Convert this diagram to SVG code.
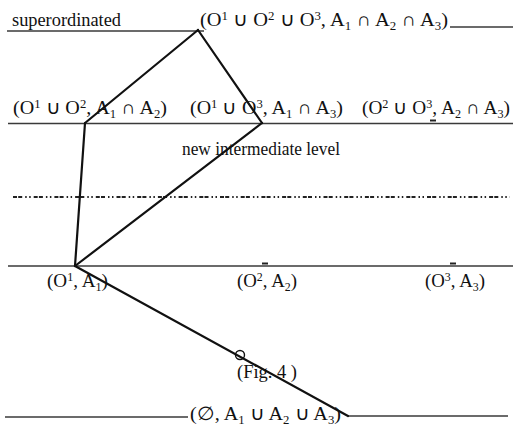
<svg xmlns="http://www.w3.org/2000/svg" width="513" height="428" viewBox="0 0 513 428">
<style>
  .lvl { stroke: #3a3a3a; stroke-width: 1.4; fill: none; }
  .dash { stroke: #222; stroke-width: 2; fill: none; stroke-dasharray: 4 1.2 4 3 1.5 2.5 1.5 3; }
  .edge { stroke: #111; stroke-width: 2.2; fill: none; stroke-linecap: round; }
  .tick { stroke: #222; stroke-width: 2; }
  text { font-family: "Liberation Serif", "Times New Roman", serif; font-size: 19px; fill: #111; }
  .sup { font-size: 12px; baseline-shift: 6px; }
  .sub { font-size: 12px; baseline-shift: -4px; }
</style>
<rect width="513" height="428" fill="#fff"/>

<g id="levels">
  <line class="lvl" x1="7" y1="31" x2="204" y2="31"/>
  <line class="lvl" x1="450" y1="27" x2="513" y2="27"/>
  <line class="lvl" x1="8" y1="123.5" x2="513" y2="123.5"/>
  <line class="dash" x1="13" y1="197" x2="510" y2="197"/>
  <line class="lvl" x1="8" y1="266" x2="513" y2="266"/>
  <line class="lvl" x1="5" y1="417" x2="188" y2="417"/>
  <line class="lvl" x1="348" y1="416" x2="508" y2="416"/>
  <line class="tick" x1="430" y1="120.5" x2="436" y2="120.5"/>
  <line class="tick" x1="262" y1="263.5" x2="268" y2="263.5"/>
  <line class="tick" x1="450" y1="263.5" x2="456" y2="263.5"/>
</g>

<g id="connectors">
  <line class="edge" x1="198" y1="30" x2="85" y2="123"/>
  <line class="edge" x1="198" y1="30" x2="262" y2="123"/>
  <line class="edge" x1="85" y1="123" x2="75" y2="266"/>
  <line class="edge" x1="262" y1="123" x2="75" y2="266"/>
  <line class="edge" x1="75" y1="266" x2="348" y2="416"/>
  <circle cx="240" cy="355" r="4.5" fill="none" stroke="#111" stroke-width="1.4"/>
</g>

<g id="superordinated">
  <text x="12" y="26" textLength="109" lengthAdjust="spacingAndGlyphs">superordinated</text>
  <text x="200" y="26" textLength="248" lengthAdjust="spacingAndGlyphs">(O<tspan class="sup">1</tspan> ∪ O<tspan class="sup">2</tspan> ∪ O<tspan class="sup">3</tspan>, A<tspan class="sub">1</tspan> ∩ A<tspan class="sub">2</tspan> ∩ A<tspan class="sub">3</tspan>)</text>
</g>

<g id="node-o1o2">
  <text x="13" y="114" textLength="154" lengthAdjust="spacingAndGlyphs">(O<tspan class="sup">1</tspan> ∪ O<tspan class="sup">2</tspan>, A<tspan class="sub">1</tspan> ∩ A<tspan class="sub">2</tspan>)</text>
</g>
<g id="node-o1o3">
  <text x="190" y="114" textLength="153" lengthAdjust="spacingAndGlyphs">(O<tspan class="sup">1</tspan> ∪ O<tspan class="sup">3</tspan>, A<tspan class="sub">1</tspan> ∩ A<tspan class="sub">3</tspan>)</text>
</g>
<g id="node-o2o3">
  <text x="362" y="114" textLength="148" lengthAdjust="spacingAndGlyphs">(O<tspan class="sup">2</tspan> ∪ O<tspan class="sup">3</tspan>, A<tspan class="sub">2</tspan> ∩ A<tspan class="sub">3</tspan>)</text>
</g>

<g id="label-intermediate">
  <text x="182" y="155" textLength="158" lengthAdjust="spacingAndGlyphs">new intermediate level</text>
</g>

<g id="node-o1">
  <text x="47" y="287" textLength="61" lengthAdjust="spacingAndGlyphs">(O<tspan class="sup">1</tspan>, A<tspan class="sub">1</tspan>)</text>
</g>
<g id="node-o2">
  <text x="237" y="287" textLength="60" lengthAdjust="spacingAndGlyphs">(O<tspan class="sup">2</tspan>, A<tspan class="sub">2</tspan>)</text>
</g>
<g id="node-o3">
  <text x="425" y="287" textLength="60" lengthAdjust="spacingAndGlyphs">(O<tspan class="sup">3</tspan>, A<tspan class="sub">3</tspan>)</text>
</g>

<g id="caption">
  <text x="237" y="378" textLength="60" lengthAdjust="spacingAndGlyphs">(Fig. 4 )</text>
</g>

<g id="node-bottom">
  <text x="190" y="420" textLength="151" lengthAdjust="spacingAndGlyphs">(∅, A<tspan class="sub">1</tspan> ∪ A<tspan class="sub">2</tspan> ∪ A<tspan class="sub">3</tspan>)</text>
</g>
</svg>
